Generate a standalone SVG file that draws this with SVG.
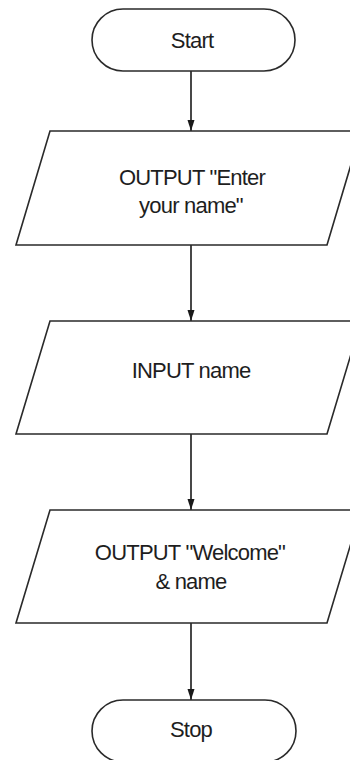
<svg xmlns="http://www.w3.org/2000/svg" width="350" height="760" viewBox="0 0 350 760">
<style>
.shape{fill:#fff;stroke:#2a2a2a;stroke-width:1.6;stroke-linejoin:miter}
.conn{stroke:#1a1a1a;stroke-width:1.6;fill:none}
.lbl{font-family:"Liberation Sans",Arial,sans-serif;font-size:22px;fill:#1e1e1e;text-anchor:middle;letter-spacing:-0.8px}
</style>
<defs>
<marker id="arr" viewBox="0 -4 12 8" markerWidth="12" markerHeight="8" refX="11" refY="0" markerUnits="userSpaceOnUse" orient="auto">
<path d="M0,-3.5 L11,0 L0,3.5 z" fill="#1a1a1a"/>
</marker>
</defs>
<rect width="350" height="760" fill="#fff"/>
<g id="connectors">
<line class="conn" x1="191" y1="71" x2="191" y2="131" marker-end="url(#arr)"/>
<line class="conn" x1="191" y1="245" x2="191" y2="321" marker-end="url(#arr)"/>
<line class="conn" x1="191" y1="434" x2="191" y2="510" marker-end="url(#arr)"/>
<line class="conn" x1="191" y1="623" x2="191" y2="700" marker-end="url(#arr)"/>
</g>
<g id="start">
<rect class="shape" x="92" y="9" width="203" height="62" rx="31" ry="31"/>
<text class="lbl" x="192" y="48">Start</text>
</g>
<g id="output1">
<polygon class="shape" points="50,131 361,131 327,245 16,245"/>
<text class="lbl" x="192" y="185">OUTPUT "Enter</text>
<text class="lbl" x="191" y="213">your name"</text>
</g>
<g id="input">
<polygon class="shape" points="50,321 361,321 327,434 16,434"/>
<text class="lbl" x="191" y="378">INPUT name</text>
</g>
<g id="output2">
<polygon class="shape" points="50,510 361,510 327,623 16,623"/>
<text class="lbl" x="190" y="560">OUTPUT "Welcome"</text>
<text class="lbl" x="191" y="589">&amp; name</text>
</g>
<g id="stop">
<rect class="shape" x="92" y="700" width="204" height="62" rx="31" ry="31"/>
<text class="lbl" x="191" y="737">Stop</text>
</g>
</svg>
